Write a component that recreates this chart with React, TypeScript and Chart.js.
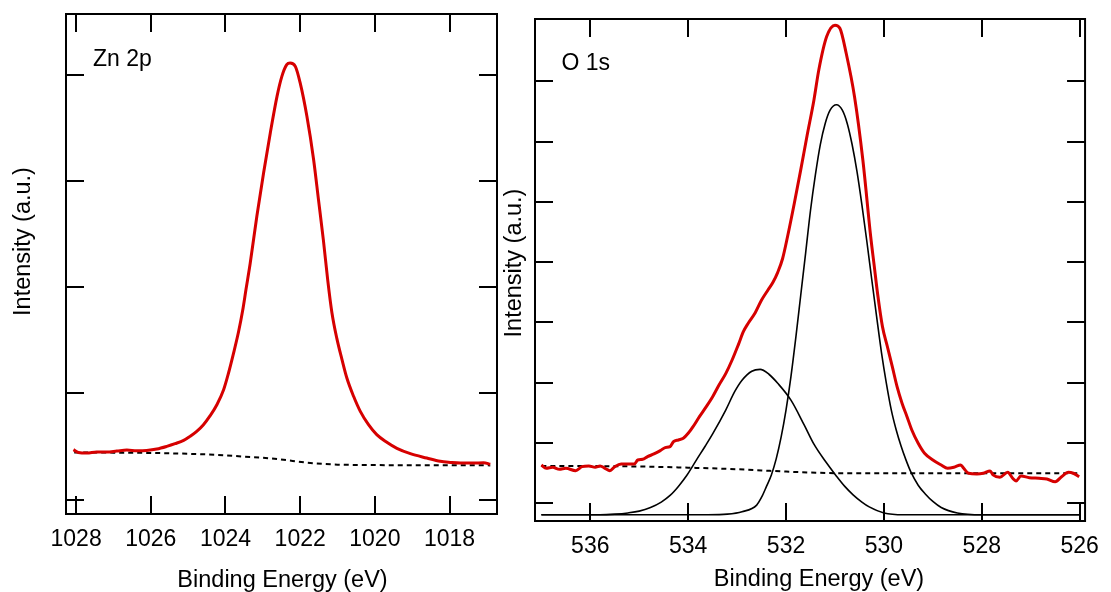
import React, { useEffect, useRef } from "react";
import { Chart, registerables } from "chart.js";

Chart.register(...registerables);

const FONT = "'Liberation Sans', Arial, Helvetica, sans-serif";
const RED = "rgb(214,0,0)";

// ---------- Zn 2p ----------
const znEnergy = [
  1028.07, 1027.94, 1027.71, 1027.45, 1027.18, 1026.91, 1026.64, 1026.37, 1026.11, 1025.84,
  1025.57, 1025.35, 1025.12, 1024.95, 1024.77, 1024.59, 1024.41, 1024.23, 1024.05, 1023.92,
  1023.79, 1023.65, 1023.54, 1023.45, 1023.34, 1023.16, 1022.98, 1022.8, 1022.62, 1022.49,
  1022.36, 1022.27, 1022.13, 1022.0, 1021.82, 1021.64, 1021.51, 1021.38, 1021.26, 1021.15,
  1021.02, 1020.88, 1020.75, 1020.57, 1020.39, 1020.17, 1019.95, 1019.68, 1019.41, 1019.05,
  1018.61, 1018.25, 1017.98, 1017.71, 1017.36, 1017.09, 1016.91,
];
const znIntensity = [
  0.471, 0.445, 0.439, 0.449, 0.449, 0.458, 0.467, 0.461, 0.464, 0.477,
  0.502, 0.527, 0.558, 0.596, 0.643, 0.706, 0.791, 0.894, 1.035, 1.19,
  1.37, 1.58, 1.78, 1.98, 2.22, 2.667, 3.075, 3.451, 3.796, 3.984,
  4.094, 4.11, 4.078, 3.922, 3.608, 3.2, 2.824, 2.447, 2.06, 1.76,
  1.52, 1.318, 1.145, 0.973, 0.831, 0.706, 0.612, 0.54, 0.483, 0.433,
  0.392, 0.361, 0.351, 0.345, 0.345, 0.348, 0.333,
];
const znBgEnergy = [1028.05, 1027.0, 1026.0, 1025.0, 1024.0, 1023.5, 1023.0, 1022.6, 1022.2, 1021.8, 1021.4, 1021.0, 1020.0, 1019.0, 1016.91];
const znBackground = [0.445, 0.443, 0.44, 0.432, 0.418, 0.405, 0.395, 0.382, 0.365, 0.348, 0.337, 0.33, 0.326, 0.324, 0.323];
const znXTicks = [1028, 1026, 1024, 1022, 1020, 1018];
const znYTicks = [0, 1, 2, 3, 4];

// ---------- O 1s ----------
const oEnergy = [
  537.0, 536.9, 536.77, 536.63, 536.5, 536.3, 536.17, 536.03, 535.9, 535.8,
  535.7, 535.6, 535.5, 535.37, 535.23, 535.1, 535.03, 534.93, 534.83, 534.7,
  534.57, 534.47, 534.37, 534.3, 534.2, 534.1, 534.0, 533.9, 533.77, 533.63,
  533.5, 533.37, 533.23, 533.1, 532.97, 532.87, 532.77, 532.63, 532.5, 532.37,
  532.27, 532.17, 532.07, 531.97, 531.83, 531.7, 531.57, 531.43, 531.33, 531.17,
  531.0, 530.9, 530.77, 530.6, 530.43, 530.27, 530.2, 530.13, 530.03, 529.93,
  529.83, 529.73, 529.63, 529.53, 529.43, 529.3, 529.17, 529.0, 528.83, 528.7,
  528.57, 528.43, 528.37, 528.27, 528.1, 527.97, 527.83, 527.77, 527.63, 527.47,
  527.37, 527.3, 527.2, 527.03, 526.83, 526.67, 526.5, 526.37, 526.23, 526.13,
  526.01,
];
const oIntensity = [
  0.635, 0.58, 0.597, 0.563, 0.58, 0.541, 0.607, 0.619, 0.597, 0.619,
  0.58, 0.541, 0.607, 0.652, 0.652, 0.652, 0.718, 0.729, 0.773, 0.818,
  0.873, 0.923, 0.939, 1.022, 1.05, 1.077, 1.16, 1.271, 1.437, 1.603,
  1.768, 1.962, 2.155, 2.38, 2.64, 2.85, 2.99, 3.16, 3.371, 3.537,
  3.66, 3.83, 4.06, 4.42, 4.98, 5.53, 6.1, 6.69, 7.19, 7.74,
  7.93, 7.88, 7.46, 6.74, 5.69, 4.42, 3.95, 3.48, 2.93, 2.6,
  2.27, 1.93, 1.66, 1.44, 1.216, 0.995, 0.829, 0.718, 0.635, 0.58,
  0.597, 0.635, 0.58, 0.498, 0.486, 0.498, 0.536, 0.47, 0.431, 0.514,
  0.415, 0.37, 0.453, 0.425, 0.415, 0.403, 0.358, 0.441, 0.514, 0.498,
  0.441,
];
const oBgEnergy = [537.0, 535.0, 534.0, 533.0, 532.5, 532.0, 531.5, 531.0, 526.01];
const oBackground = [0.62, 0.61, 0.59, 0.565, 0.545, 0.525, 0.51, 0.5, 0.5];

const oPeak1Energy = [
  537.0, 533.6, 533.2, 532.9, 532.6, 532.5, 532.4, 532.3, 532.2, 532.1,
  532.0, 531.9, 531.8, 531.7, 531.6, 531.5, 531.4, 531.3, 531.2, 531.1,
  530.97, 530.85, 530.75, 530.65, 530.55, 530.45, 530.35, 530.25, 530.15, 530.05,
  529.95, 529.85, 529.75, 529.65, 529.55, 529.45, 529.3, 529.15, 529.0, 528.83,
  528.5, 528.0, 526.01,
];
const oPeak1 = [
  -0.19, -0.19, -0.18, -0.14, -0.03, 0.1, 0.28, 0.47, 0.74, 1.1,
  1.55, 2.1, 2.75, 3.45, 4.15, 4.86, 5.45, 5.95, 6.3, 6.52,
  6.61, 6.52, 6.3, 5.95, 5.5, 4.95, 4.35, 3.72, 3.1, 2.5,
  1.99, 1.55, 1.22, 0.95, 0.72, 0.52, 0.3, 0.15, 0.03, -0.07,
  -0.16, -0.19, -0.19,
];
const oPeak2Energy = [
  537.0, 535.8, 535.5, 535.23, 535.0, 534.77, 534.55, 534.37, 534.2, 534.03,
  533.83, 533.65, 533.5, 533.23, 533.05, 532.9, 532.7, 532.53, 532.35, 532.17,
  531.9, 531.63, 531.43, 531.2, 530.97, 530.8, 530.63, 530.45, 530.3, 530.0,
  529.6, 526.01,
];
const oPeak2 = [
  -0.19, -0.19, -0.18, -0.16, -0.13, -0.07, 0.02, 0.13, 0.28, 0.46,
  0.72, 0.95, 1.15, 1.55, 1.85, 2.04, 2.19, 2.22, 2.14, 1.99,
  1.71, 1.3, 0.98, 0.7, 0.45, 0.28, 0.14, 0.02, -0.06, -0.16,
  -0.19, -0.19,
];
const oXTicks = [536, 534, 532, 530, 528, 526];
const oYTicks = [0, 1, 2, 3, 4, 5, 6, 7];

const X_TITLE = "Binding Energy (eV)";
const Y_TITLE = "Intensity (a.u.)";

function pts(xs: number[], ys: number[]) {
  return xs.map((x, i) => ({ x, y: ys[i] }));
}

type PanelCfg = {
  pageLeft: number;
  width: number;
  area: { left: number; right: number; top: number; bottom: number };
  xMin: number;
  xMax: number;
  yMin: number;
  yMax: number;
  xTicks: number[];
  yTicks: number[];
  label: string;
  labelPos: [number, number];
  xTitlePos: [number, number];
  yTitlePos: [number, number];
  datasets: any[];
};

const H = 592;
const TICK = 18;

function Panel({ cfg }: { cfg: PanelCfg }) {
  const ref = useRef<HTMLCanvasElement | null>(null);
  useEffect(() => {
    if (!ref.current) return;
    const framePlugin = {
      id: "frame",
      afterDraw(chart: any) {
        const { ctx, chartArea: a, scales } = chart;
        const xs = scales.x;
        const ys = scales.y;
        ctx.save();
        ctx.strokeStyle = "#000";
        ctx.lineWidth = 2;
        ctx.strokeRect(a.left, a.top, a.right - a.left, a.bottom - a.top);
        ctx.beginPath();
        cfg.xTicks.forEach((v) => {
          const px = Math.round(xs.getPixelForValue(v));
          ctx.moveTo(px, a.bottom);
          ctx.lineTo(px, a.bottom - TICK);
          ctx.moveTo(px, a.top);
          ctx.lineTo(px, a.top + TICK);
        });
        cfg.yTicks.forEach((v) => {
          const py = Math.round(ys.getPixelForValue(v));
          ctx.moveTo(a.left, py);
          ctx.lineTo(a.left + TICK, py);
          ctx.moveTo(a.right, py);
          ctx.lineTo(a.right - TICK, py);
        });
        ctx.stroke();

        ctx.fillStyle = "#000";
        ctx.font = `23px ${FONT}`;
        ctx.textBaseline = "alphabetic";
        ctx.textAlign = "left";
        ctx.fillText(cfg.label, cfg.labelPos[0], cfg.labelPos[1]);

        ctx.font = `23.5px ${FONT}`;
        ctx.textAlign = "center";
        ctx.fillText(X_TITLE, cfg.xTitlePos[0], cfg.xTitlePos[1]);

        ctx.translate(cfg.yTitlePos[0], cfg.yTitlePos[1]);
        ctx.rotate(-Math.PI / 2);
        ctx.fillText(Y_TITLE, 0, 0);
        ctx.restore();
      },
    };

    const chart = new Chart(ref.current, {
      type: "line",
      data: { datasets: cfg.datasets },
      options: {
        animation: false,
        responsive: false,
        maintainAspectRatio: false,
        devicePixelRatio: 1,
        events: [],
        layout: {
          padding: {
            left: cfg.area.left,
            top: cfg.area.top,
            right: cfg.width - cfg.area.right,
            bottom: 0,
          },
        },
        plugins: {
          legend: { display: false },
          tooltip: { enabled: false },
        },
        elements: { point: { radius: 0 } },
        scales: {
          x: {
            type: "linear",
            reverse: true,
            min: cfg.xMin,
            max: cfg.xMax,
            grid: { display: false, drawTicks: false },
            border: { display: false },
            ticks: {
              color: "#000",
              font: { family: FONT, size: 23 },
              padding: 12,
              maxRotation: 0,
              autoSkip: false,
              callback: (v: any) => String(v),
            },
            afterBuildTicks: (s: any) => {
              s.ticks = cfg.xTicks.map((v) => ({ value: v }));
            },
            afterFit: (s: any) => {
              s.height = H - cfg.area.bottom;
            },
          },
          y: {
            type: "linear",
            display: false,
            min: cfg.yMin,
            max: cfg.yMax,
          },
        },
      },
      plugins: [framePlugin],
    } as any);
    return () => chart.destroy();
  }, []);
  return (
    <canvas
      ref={ref}
      width={cfg.width}
      height={H}
      style={{ position: "absolute", left: cfg.pageLeft, top: 0, width: cfg.width, height: H }}
    />
  );
}

const lineBase = {
  parsing: true,
  pointRadius: 0,
  fill: false,
  cubicInterpolationMode: "monotone",
};

const znCfg: PanelCfg = {
  pageLeft: 0,
  width: 505,
  area: { left: 66, right: 497, top: 14, bottom: 514 },
  xMin: 1016.73,
  xMax: 1028.27,
  yMin: -0.1346,
  yMax: 4.571,
  xTicks: znXTicks,
  yTicks: znYTicks,
  label: "Zn 2p",
  labelPos: [93, 65.5],
  xTitlePos: [282.5, 586.5],
  yTitlePos: [29.5, 241.5],
  datasets: [
    { ...lineBase, data: pts(znEnergy, znIntensity), borderColor: RED, borderWidth: 3 },
    { ...lineBase, data: pts(znBgEnergy, znBackground), borderColor: "#000", borderWidth: 2, borderDash: [5, 4] },
  ],
};

const oCfg: PanelCfg = {
  pageLeft: 500,
  width: 611,
  area: { left: 35, right: 597, top: 19, bottom: 521 },
  xMin: 525.89,
  xMax: 537.13,
  yMin: -0.294,
  yMax: 8.032,
  xTicks: oXTicks,
  yTicks: oYTicks,
  label: "O 1s",
  labelPos: [61.5, 69.5],
  xTitlePos: [319, 586],
  yTitlePos: [21, 263],
  datasets: [
    { ...lineBase, data: pts(oEnergy, oIntensity), borderColor: RED, borderWidth: 3 },
    { ...lineBase, data: pts(oPeak1Energy, oPeak1), borderColor: "#000", borderWidth: 1.6 },
    { ...lineBase, data: pts(oPeak2Energy, oPeak2), borderColor: "#000", borderWidth: 1.6 },
    { ...lineBase, data: pts(oBgEnergy, oBackground), borderColor: "#000", borderWidth: 2, borderDash: [5, 4] },
  ],
};

export default function App() {
  return (
    <div style={{ position: "fixed", left: 0, top: 0, width: 1111, height: H, background: "#fff" }}>
      <Panel cfg={znCfg} />
      <Panel cfg={oCfg} />
    </div>
  );
}
